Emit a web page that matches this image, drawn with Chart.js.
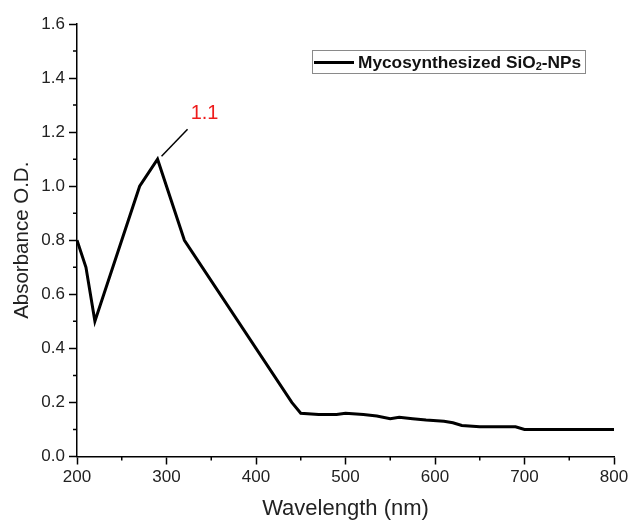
<!DOCTYPE html>
<html>
<head>
<meta charset="utf-8">
<script src="https://cdn.jsdelivr.net/npm/chart.js@4"></script>
<style>
  html, body { margin: 0; padding: 0; background: #fff; }
  #wrap { position: relative; width: 633px; height: 524px; }
  #legend {
    position: absolute; left: 312px; top: 50px; width: 272px; height: 22px;
    border: 1px solid #8a8a8a; background: #fff;
    font-family: "Liberation Sans", Arial, sans-serif; font-weight: bold; font-size: 17.3px;
    color: #111; white-space: nowrap; line-height: 22px;
  }
  #legend .sw { position: absolute; left: 1px; top: 10px; width: 40px; height: 3px; background: #000; }
  #legend .tx { position: absolute; left: 45px; top: 0; }
  #legend sub { font-size: 11px; vertical-align: baseline; position: relative; top: 2px; }
</style>
</head>
<body>
<div id="wrap">
  <canvas id="c" width="633" height="524"></canvas>
  <div id="legend"><span class="sw"></span><span class="tx">Mycosynthesized SiO<sub>2</sub>-NPs</span></div>
</div>
<script>
// Data
const wavelengths = [200, 210, 220, 270, 290, 320, 440, 450, 470, 490, 500, 520, 535, 550, 560, 575, 590, 610, 620, 630, 650, 690, 700, 800];
const absorbance  = [0.80, 0.70, 0.50, 1.00, 1.10, 0.80, 0.20, 0.16, 0.155, 0.155, 0.16, 0.155, 0.15, 0.14, 0.145, 0.14, 0.135, 0.13, 0.125, 0.115, 0.11, 0.11, 0.10, 0.10];
const seriesName = "Mycosynthesized SiO2-NPs";
const peakWavelength = [290];
const peakValue = [1.1];
const peakLabel = ["1.1"];
const xTicks = [200, 300, 400, 500, 600, 700, 800];
const yTicks = [0.0, 0.2, 0.4, 0.6, 0.8, 1.0, 1.2, 1.4, 1.6];
const xMinorTicks = [250, 350, 450, 550, 650, 750];
const yMinorTicks = [0.1, 0.3, 0.5, 0.7, 0.9, 1.1, 1.3, 1.5];

const FONT = '"Liberation Sans", Arial, sans-serif';

const minorTicksPlugin = {
  id: 'minorTicks',
  afterDraw(chart) {
    const ctx = chart.ctx, xs = chart.scales.x, ys = chart.scales.y;
    const area = chart.chartArea;
    ctx.save();
    ctx.strokeStyle = '#000';
    ctx.lineWidth = 1.5;
    ctx.beginPath();
    xMinorTicks.forEach(v => {
      const px = xs.getPixelForValue(v);
      ctx.moveTo(px, area.bottom); ctx.lineTo(px, area.bottom + 4);
    });
    yMinorTicks.forEach(v => {
      const py = ys.getPixelForValue(v);
      ctx.moveTo(area.left, py); ctx.lineTo(area.left - 4, py);
    });
    ctx.stroke();
    ctx.restore();
  }
};

const peakPlugin = {
  id: 'peakLabel',
  afterDatasetsDraw(chart) {
    const ctx = chart.ctx, xs = chart.scales.x, ys = chart.scales.y;
    peakWavelength.forEach((w, i) => {
      const px = xs.getPixelForValue(w), py = ys.getPixelForValue(peakValue[i]);
      ctx.save();
      ctx.strokeStyle = '#000';
      ctx.lineWidth = 1.5;
      ctx.beginPath();
      ctx.moveTo(px + 4, py - 3);
      ctx.lineTo(px + 30, py - 30);
      ctx.stroke();
      ctx.fillStyle = '#ee1c1c';
      ctx.font = '20px ' + FONT;
      ctx.textAlign = 'center';
      ctx.textBaseline = 'alphabetic';
      ctx.fillText(peakLabel[i], px + 47, py - 40);
      ctx.restore();
    });
  }
};

new Chart(document.getElementById('c'), {
  type: 'line',
  data: {
    datasets: [{
      label: seriesName,
      data: wavelengths.map((w, i) => ({ x: w, y: absorbance[i] })),
      borderColor: '#000',
      backgroundColor: '#000',
      borderWidth: 3,
      pointRadius: 0,
      tension: 0,
      fill: false
    }]
  },
  options: {
    responsive: false,
    animation: false,
    layout: { padding: { top: 24, right: 19, left: 0, bottom: 0 } },
    plugins: { legend: { display: false }, tooltip: { enabled: false } },
    scales: {
      x: {
        type: 'linear',
        min: 200, max: 800,
        afterBuildTicks(scale) { scale.ticks = xTicks.map(v => ({ value: v })); },
        afterFit(scale) { scale.height = 67.5; },
        ticks: { color: '#222', font: { family: FONT, size: 17 }, padding: 3, maxRotation: 0 },
        grid: { drawOnChartArea: false, drawTicks: true, tickLength: 8, color: '#000', tickWidth: 1.5 },
        border: { display: true, color: '#000', width: 1.5 },
        title: { display: true, text: 'Wavelength (nm)', color: '#222', font: { family: FONT, size: 22 }, padding: { top: 0, bottom: 2 } }
      },
      y: {
        type: 'linear',
        min: 0, max: 1.6,
        afterBuildTicks(scale) { scale.ticks = yTicks.map(v => ({ value: v })); },
        afterFit(scale) { scale.width = 77; },
        ticks: { color: '#222', font: { family: FONT, size: 17 }, padding: 4, callback: v => Number(v).toFixed(1) },
        grid: { drawOnChartArea: false, drawTicks: true, tickLength: 8, color: '#000', tickWidth: 1.5 },
        border: { display: true, color: '#000', width: 1.5 },
        title: { display: true, text: 'Absorbance O.D.', color: '#222', font: { family: FONT, size: 20.5 }, padding: { top: 10, bottom: 0 } }
      }
    }
  },
  plugins: [minorTicksPlugin, peakPlugin]
});
</script>
</body>
</html>
